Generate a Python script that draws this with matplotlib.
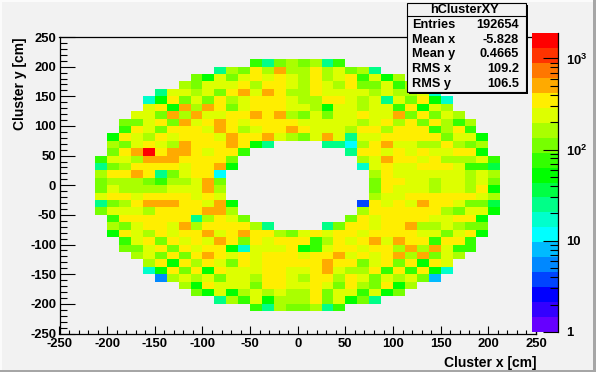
import numpy as np
import matplotlib
matplotlib.use("Agg")
import matplotlib.pyplot as plt
from matplotlib.colors import ListedColormap, LogNorm
from matplotlib.patches import Rectangle
from matplotlib.ticker import FixedLocator, FixedFormatter, NullFormatter, FormatStrFormatter

plt.rcParams['font.family'] = ['Liberation Sans', 'DejaVu Sans']
plt.rcParams['font.weight'] = 'bold'
plt.rcParams['mathtext.fontset'] = 'custom'
plt.rcParams['mathtext.bf'] = 'Liberation Sans:bold'
plt.rcParams['mathtext.rm'] = 'Liberation Sans:bold'
plt.rcParams['axes.unicode_minus'] = False

W, H = 596, 372
BG = '#f2f2f2'

# bin contents, top row first, each row centred on x = 0, 0 = empty bin
row_counts = [
    [77, 25, 112, 164, 112, 164, 25, 77],
    [25, 164, 112, 348, 164, 508, 164, 164, 348, 164, 239, 112, 164, 25],
    [112, 53, 239, 112, 239, 348, 239, 348, 239, 164, 348, 164, 239, 348, 77, 239, 53, 164],
    [164, 112, 239, 239, 239, 348, 164, 348, 348, 239, 164, 348, 239, 164, 348, 112, 112, 239, 77, 164],
    [25, 239, 239, 164, 239, 112, 348, 508, 239, 508, 348, 164, 164, 348, 239, 239, 239, 239, 164, 239, 164, 164, 239, 17],
    [17, 53, 348, 112, 239, 112, 348, 164, 239, 348, 348, 348, 239, 164, 164, 348, 348, 239, 164, 239, 25, 239, 112, 348, 53, 17],
    [239, 348, 53, 508, 164, 508, 348, 112, 239, 348, 348, 348, 239, 239, 164, 53, 239, 239, 164, 239, 239, 77, 348, 53, 239, 164],
    [239, 239, 112, 508, 164, 508, 239, 239, 348, 348, 508, 348, 508, 164, 112, 239, 112, 239, 239, 348, 239, 239, 508, 112, 348, 112, 239, 164],
    [112, 112, 239, 348, 112, 508, 239, 348, 508, 348, 239, 348, 348, 348, 348, 239, 239, 239, 239, 239, 164, 239, 348, 164, 348, 112, 348, 164, 77, 164],
    [77, 348, 239, 112, 348, 348, 348, 239, 508, 348, 164, 239, 348, 348, 508, 348, 239, 239, 239, 164, 348, 348, 164, 348, 348, 348, 77, 164, 348, 77],
    [53, 348, 239, 164, 348, 239, 348, 348, 348, 239, 508, 348, 348, 508, 239, 164, 112, 239, 508, 239, 25, 239, 239, 348, 348, 348, 348, 348, 112, 239, 239, 53],
    [164, 112, 239, 348, 239, 164, 508, 348, 348, 348, 508, 348, 53, 25] + [0] * 4 + [25, 25, 12, 164, 348, 508, 239, 239, 164, 164, 348, 164, 112, 164],
    [112, 348, 508, 1578, 348, 508, 508, 348, 239, 348, 348, 77] + [0] * 8 + [25, 348, 348, 239, 348, 239, 348, 239, 239, 348, 348, 53],
    [77, 239, 239, 164, 508, 508, 508, 348, 348, 348, 348, 112] + [0] * 10 + [164, 239, 508, 348, 348, 239, 348, 164, 164, 164, 239, 77],
    [25, 112, 164, 348, 348, 348, 348, 239, 348, 348, 508, 53] + [0] * 10 + [17, 239, 348, 239, 239, 348, 348, 348, 239, 77, 77, 36],
    [164, 348, 348, 508, 348, 25, 112, 239, 348, 348, 12] + [0] * 12 + [164, 348, 239, 239, 239, 239, 239, 239, 164, 239, 164],
    [112, 164, 164, 164, 112, 77, 164, 164, 239, 508, 112] + [0] * 12 + [112, 348, 348, 239, 239, 164, 239, 239, 164, 239, 112],
    [112, 239, 164, 164, 164, 164, 239, 239, 239, 508, 164] + [0] * 12 + [112, 348, 239, 239, 239, 164, 239, 239, 164, 348, 53],
    [239, 348, 348, 239, 348, 348, 348, 348, 239, 348, 239] + [0] * 12 + [164, 239, 239, 348, 348, 348, 348, 348, 348, 239, 164],
    [25, 112, 164, 348, 508, 508, 508, 348, 348, 239, 508, 53] + [0] * 10 + [4, 348, 239, 348, 239, 508, 348, 348, 239, 112, 112, 36],
    [112, 239, 239, 239, 164, 348, 348, 348, 348, 508, 508, 164] + [0] * 10 + [164, 348, 348, 348, 348, 348, 348, 164, 112, 239, 239, 53],
    [77, 348, 348, 348, 348, 348, 348, 25, 164, 348, 239, 112] + [0] * 8 + [112, 348, 239, 348, 348, 348, 348, 239, 239, 348, 348, 53],
    [164, 112, 239, 348, 348, 239, 508, 164, 348, 348, 348, 348, 164, 25] + [0] * 4 + [25, 112, 348, 348, 239, 348, 348, 508, 164, 164, 239, 164, 112, 112],
    [53, 348, 239, 164, 348, 239, 348, 348, 508, 239, 348, 508, 348, 348, 164, 112, 239, 348, 239, 348, 348, 239, 348, 348, 348, 348, 239, 239, 112, 239, 348, 53],
    [77, 239, 348, 112, 348, 239, 348, 239, 508, 348, 112, 348, 239, 348, 348, 348, 77, 164, 348, 239, 348, 508, 239, 508, 348, 348, 77, 348, 348, 77],
    [112, 112, 239, 348, 112, 348, 239, 348, 348, 53, 17, 239, 239, 239, 348, 53, 77, 239, 348, 348, 239, 348, 348, 164, 508, 164, 508, 239, 77, 77],
    [164, 239, 112, 348, 112, 348, 508, 348, 239, 348, 239, 348, 348, 348, 239, 348, 348, 508, 239, 348, 239, 348, 508, 164, 508, 112, 239, 164],
    [164, 348, 53, 348, 164, 348, 239, 112, 348, 239, 348, 348, 348, 348, 348, 508, 348, 348, 112, 239, 348, 112, 348, 53, 348, 239],
    [17, 53, 348, 112, 348, 53, 348, 239, 239, 239, 348, 348, 239, 239, 348, 508, 239, 164, 164, 348, 77, 348, 77, 348, 53, 17],
    [6, 164, 239, 164, 239, 112, 239, 239, 164, 348, 348, 239, 164, 348, 348, 164, 348, 239, 112, 239, 164, 239, 112, 8],
    [164, 53, 348, 239, 239, 239, 112, 348, 348, 239, 239, 348, 239, 112, 348, 164, 112, 348, 53, 164],
    [112, 53, 239, 53, 164, 239, 164, 239, 164, 164, 348, 112, 239, 239, 77, 239, 53, 112],
    [25, 164, 77, 239, 53, 164, 164, 164, 348, 112, 239, 53, 112, 25],
    [77, 25, 164, 112, 112, 164, 25, 77],
]
n_bins = 40
first_row = 3
z_max = 1900

palette = ['#6600ff', '#3300ff', '#0000ff', '#0044ff', '#0088ff', '#00bbff', '#00ffff',
           '#00ffcc', '#00ff88', '#00ff44', '#00ff00', '#33ff00', '#77ff00', '#aaff00',
           '#ddff00', '#ffee00', '#ffaa00', '#ff7700', '#ff3300', '#ff0000']

stat_names = ['Entries', 'Mean x', 'Mean y', 'RMS x', 'RMS y']
stat_values = ['192654', '-5.828', '0.4665', '109.2', '106.5']


def ax_rect(x0, y0, x1, y1):
    # pixel box (y from top) to figure fractions
    return [x0 / W, 1 - y1 / H, (x1 - x0) / W, (y1 - y0) / H]


fig = plt.figure(figsize=(W / 100, H / 100), dpi=100, facecolor=BG)

# canvas bevel
fig.add_artist(Rectangle((0, 0), 2 / W, 1, transform=fig.transFigure, color='#fbfbfb', lw=0))
fig.add_artist(Rectangle((0, 1 - 2 / H), 1, 2 / H, transform=fig.transFigure, color='#fbfbfb', lw=0))
fig.add_artist(Rectangle((0, 0), 1, 2 / H, transform=fig.transFigure, color='#a6a6a6', lw=0))
fig.add_artist(Rectangle((1 - 3 / W, 0), 3 / W, 1, transform=fig.transFigure, color='#a6a6a6', lw=0))

grid = np.zeros((n_bins, n_bins))
for i, row in enumerate(row_counts):
    start = (n_bins - len(row)) // 2
    grid[first_row + i, start:start + len(row)] = row
grid = np.ma.masked_equal(grid[::-1], 0)

cmap = ListedColormap(palette)
norm = LogNorm(vmin=1, vmax=z_max)
edges = np.linspace(-250, 250, n_bins + 1)

ax = fig.add_axes(ax_rect(59.5, 37, 536, 333.5), facecolor=BG)
ax.pcolormesh(edges, edges, grid, cmap=cmap, norm=norm, linewidth=0)
ax.set_xlim(-250, 250)
ax.set_ylim(-250, 250)
ax.set_xticks(np.arange(-250, 251, 50))
ax.set_yticks(np.arange(-250, 251, 50))
ax.set_xticks(np.arange(-250, 251, 10), minor=True)
ax.set_yticks(np.arange(-250, 251, 10), minor=True)
ax.tick_params(axis='x', which='major', direction='in', length=6, width=0.8, pad=3, labelsize=9.4)
ax.tick_params(axis='x', which='minor', direction='in', length=3, width=0.8)
ax.tick_params(axis='y', which='major', direction='in', length=10.5, width=0.8, pad=2.5, labelsize=9.4)
ax.tick_params(axis='y', which='minor', direction='in', length=5, width=0.8)
for side in ax.spines.values():
    side.set_linewidth(0.9)
ax.xaxis.set_major_formatter(FormatStrFormatter('%d'))
ax.yaxis.set_major_formatter(FormatStrFormatter('%d'))

fig.text(536 / W, 1 - 363 / H, 'Cluster x [cm]', ha='right', va='center', fontsize=10)
fig.text(20 / W, 1 - 37 / H, 'Cluster y [cm]', rotation=90, ha='center', va='top', fontsize=10)

# palette axis
cax = fig.add_axes(ax_rect(532, 33, 558, 332))
levels = np.logspace(0, np.log10(z_max), len(palette) + 1)
cax.pcolormesh([0, 1], levels, np.sqrt(levels[:-1] * levels[1:]).reshape(-1, 1), cmap=cmap, norm=norm, linewidth=0)
cax.set_yscale('log')
cax.set_ylim(1, z_max)
cax.set_xticks([])
cax.yaxis.tick_right()
cax.yaxis.set_major_locator(FixedLocator([1, 10, 100, 1000]))
cax.yaxis.set_major_formatter(FixedFormatter(['1', '10', r'$\mathbf{10^{2}}$', r'$\mathbf{10^{3}}$']))
cax.yaxis.set_minor_locator(FixedLocator([m * d for d in (1, 10, 100) for m in range(2, 10)]))
cax.yaxis.set_minor_formatter(NullFormatter())
cax.tick_params(axis='y', which='major', direction='in', length=11, width=0.8, pad=5.8, labelsize=9.4)
cax.tick_params(axis='y', which='minor', direction='in', length=5.5, width=0.8)
cax.spines['left'].set_visible(False)
cax.spines['top'].set_visible(False)
cax.spines['bottom'].set_visible(False)
cax.spines['right'].set_linewidth(0.9)

# stats box with shadow
fig.add_artist(Rectangle((409 / W, 1 - 94 / H), 119 / W, 89 / H, transform=fig.transFigure, color='black', lw=0, zorder=5))
fig.add_artist(Rectangle((407 / W, 1 - 92 / H), 119 / W, 89 / H, transform=fig.transFigure, fc=BG, ec='black', lw=0.8, zorder=6))
fig.add_artist(plt.Line2D([407 / W, 526 / W], [1 - 16 / H, 1 - 16 / H], transform=fig.transFigure, color='black', lw=0.8, zorder=7))
fig.text(464.5 / W, 1 - 10 / H, 'hClusterXY', ha='center', va='center', fontsize=9.2, zorder=7)
for i in range(len(stat_names)):
    y = 25 + 14.7 * i
    fig.text(412 / W, 1 - y / H, stat_names[i], ha='left', va='center', fontsize=9.2, zorder=7)
    fig.text(519 / W, 1 - y / H, stat_values[i], ha='right', va='center', fontsize=9.2, zorder=7)

fig.savefig('out.png', dpi=100, facecolor=BG)
